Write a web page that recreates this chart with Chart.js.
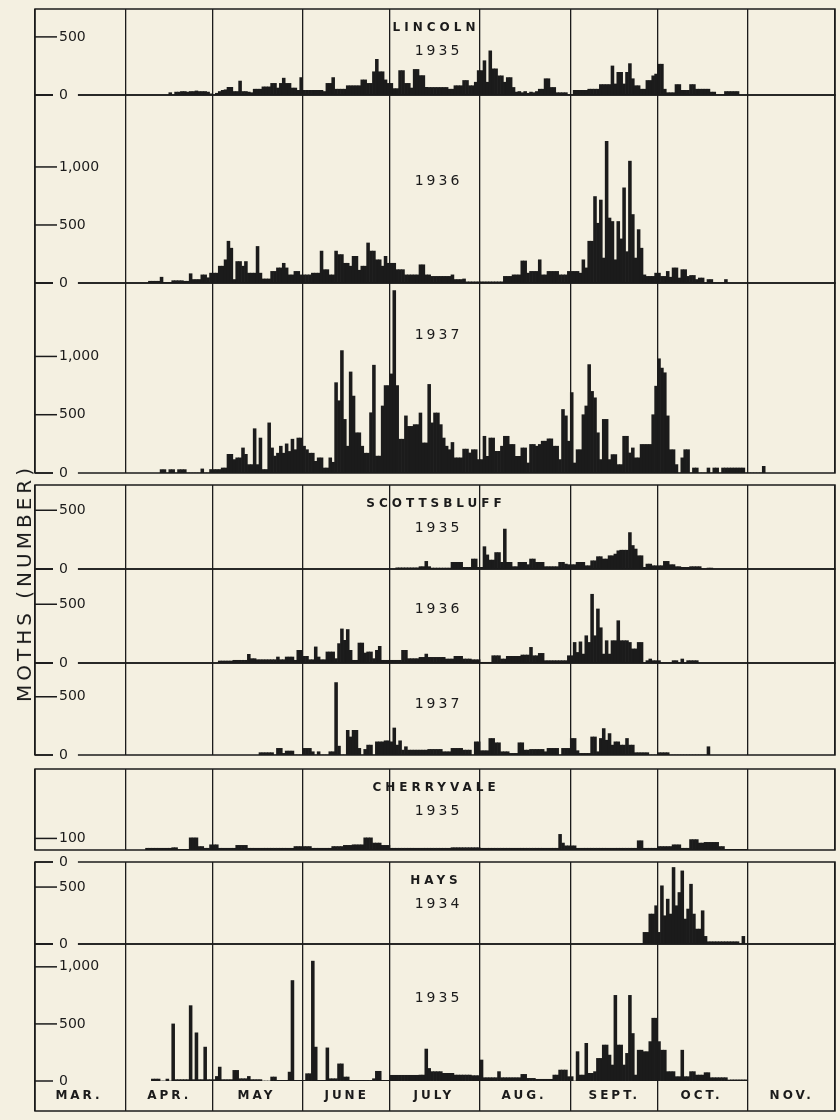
<!DOCTYPE html>
<html>
<head>
<meta charset="utf-8">
<script src="https://cdn.jsdelivr.net/npm/chart.js@4.4.1/dist/chart.umd.min.js"></script>
<style>
  html, body { margin: 0; padding: 0; background: #f4f0e1; }
  #page { position: relative; width: 840px; height: 1120px; overflow: hidden; background: #f4f0e1; }
  #page canvas { position: absolute; left: 0; }
  .lbl { position: absolute; font-family: "DejaVu Sans", sans-serif; color: #1b1b1b; white-space: nowrap; transform: translate(-50%, -50%); z-index: 300; }
  .place { font-weight: bold; font-size: 12px; letter-spacing: 4px; padding-left: 4px; }
  .year { font-size: 14px; letter-spacing: 3px; padding-left: 3px; }
  #ylab { font-size: 20px; letter-spacing: 4px; transform: translate(-50%, -50%) rotate(-90deg); }
</style>
</head>
<body>
<div id="page"></div>
<script>
// Days are counted from March 1 (day 0) to November 30 (day 274)
const monthStarts = [0, 31, 61, 92, 122, 153, 184, 214, 245, 275];
const monthNames = ['MAR.', 'APR.', 'MAY', 'JUNE', 'JULY', 'AUG.', 'SEPT.', 'OCT.', 'NOV.'];

// Daily catches (first value = start day)
const lincoln1935Start = 46;
const lincoln1935 = [
  20, 0, 25, 25, 30, 30, 25, 30, 30, 35, 30, 30, 30, 25,
  10, 0, 15, 30, 40, 45, 66, 66, 30, 30,
  120, 30, 30, 25, 20, 50, 50, 50, 70, 70,
  70, 100, 100, 60, 100, 145, 100, 100, 60, 60, 40,
  150, 40, 40, 40, 40, 40, 40, 40, 30,
  100, 100, 150, 50, 50, 50, 50, 80, 80, 80, 80, 80,
  130, 130, 100, 100, 200, 307, 200, 200, 130, 100, 100, 55, 55,
  210, 210, 100, 100, 60, 220, 220, 167,
  167, 66, 65, 65, 65, 65, 65, 65, 65,
  50, 50, 80, 80, 80, 125, 125, 80, 80,
  110, 210, 210, 295, 110, 380, 225, 225, 165, 165,
  110, 150, 150, 65, 25, 30, 20, 30, 15, 25,
  20, 30, 50, 50, 140, 140, 65, 65, 20, 20,
  20, 20, 0, 0, 40, 40, 40, 40, 40, 50,
  50, 50, 50, 90, 90, 90, 90, 250, 95, 195,
  195, 95, 195, 270, 140, 80, 80, 50, 50, 125,
  125, 165, 180, 265, 265, 50, 20, 20, 20, 90,
  90, 40, 40, 40, 90, 90, 50, 50, 50, 50,
  50, 25, 25, 0, 0, 0, 30, 30, 30, 30, 30
];

const lincoln1936Start = 39;
const lincoln1936 = [
  15, 15, 15, 15, 50, 5, 5, 5,
  20, 20, 20, 20, 15, 15,
  80, 30, 30, 30, 70, 70, 45,
  85, 85, 85, 145, 145, 200, 360, 300, 30,
  185, 185, 145, 185, 85, 85, 85, 315, 85,
  35, 35, 35, 100, 100, 130, 130, 170, 130,
  70, 70, 100, 100, 70, 70, 70, 70, 85, 85, 85,
  275, 115, 115, 70, 70, 275, 245, 245, 170, 170, 145,
  230, 230, 110, 145, 145, 345, 275, 275, 200, 200,
  145, 230, 170, 170, 170, 115, 115, 115,
  70, 70, 70, 70, 70, 157, 157, 70, 70,
  57, 57, 57, 57, 57, 57, 57, 70, 30, 30, 30, 35,
  10, 10, 10, 10, 10, 10, 10, 10, 10, 10, 10, 10, 10,
  57, 57, 57, 70, 70, 70, 190, 190, 85,
  100, 100, 100, 200, 70, 70, 100, 100, 100, 100,
  70, 70, 70, 100, 100, 100, 100, 85, 200, 130,
  360, 360, 745, 515, 715, 215, 1220, 560, 530, 200,
  530, 380, 820, 270, 1050, 590, 215, 460, 300, 70,
  57, 57, 57, 85, 85, 57, 57, 100, 50, 130,
  130, 43, 115, 115, 57, 65, 65, 30, 43, 43,
  0, 30, 30, 0, 0, 0, 0, 30
];

const lincoln1937Start = 43;
const lincoln1937 = [
  29, 29, 0, 29, 29, 0, 29, 29, 29, 0,
  0, 0, 0, 0, 35, 0, 0,
  30, 30, 30, 30, 43, 43,
  160, 160, 115, 130, 130, 215, 160, 72, 72,
  380, 72, 300, 30, 30, 430, 215, 145,
  170, 230, 170, 250, 185, 290, 200, 300, 300,
  230, 200, 170, 170, 100, 130, 130, 43, 43, 130, 92,
  775, 620, 1050, 460, 230, 867, 660, 345, 345, 230,
  170, 170, 517, 925, 145, 145, 575, 750, 750, 850,
  1565, 750, 290, 290, 490, 400, 400, 415, 415, 515,
  258, 258, 760, 430, 515, 515, 415, 300, 230, 200,
  262, 130, 130, 130, 205, 205, 172, 200, 200, 115,
  115, 315, 143, 300, 300, 186, 186, 230, 315, 315,
  245, 245, 143, 143, 215, 215, 86, 245, 245, 230,
  245, 273, 273, 293, 293, 230, 230, 115, 545, 490,
  273, 690, 86, 200, 200, 500, 575, 930, 700, 645,
  345, 115, 460, 460, 115, 158, 158, 72, 72, 315,
  315, 172, 215, 130, 130, 245, 245, 245, 245, 500,
  745, 980, 900, 860, 490, 200, 200, 72, 0, 130,
  200, 200, 0, 43, 43, 0, 0, 0, 43, 0,
  43, 43, 0, 43, 43, 43, 43, 43, 43, 43, 43,
  0, 0, 0, 0, 0, 0, 57
];

const scottsbluff1935Start = 124;
const scottsbluff1935 = [
  10, 10, 10, 10, 10, 10, 10, 10,
  20, 20, 65, 20,
  8, 8, 8, 8, 8, 8, 8,
  57, 57, 57, 57, 14, 14, 14,
  85, 85, 14, 14, 190, 120, 76, 76, 140, 140,
  57, 340, 57, 57, 20, 20, 57, 57, 57, 37,
  85, 85, 57, 57, 57, 20, 20, 20, 20, 20,
  57, 57, 42, 37, 37, 37, 57, 57, 57, 28,
  28, 70, 70, 105, 105, 85, 85, 113, 113, 127,
  155, 160, 160, 160, 310, 200, 170, 113, 113, 14,
  42, 42, 28, 28, 28, 28, 65, 65, 37, 37,
  20, 20, 14, 14, 14, 20, 20, 20, 20, 0, 0, 8, 8
];

const scottsbluff1936Start = 63;
const scottsbluff1936 = [
  17, 17, 17, 17, 17, 23, 23, 23, 23, 23,
  74, 37, 37, 28, 28, 28, 28, 28, 28, 28,
  51, 28, 28, 51, 51, 51, 23, 108, 108, 57,
  57, 28, 28, 137, 51, 28, 28, 94, 94, 94,
  37, 165, 290, 193, 285, 108, 23, 23, 170, 170,
  85, 94, 94, 37, 108, 142, 23, 23, 23, 23,
  23, 23, 23, 108, 108, 37, 37, 37, 37, 48,
  48, 76, 48, 48, 48, 48, 48, 48, 34, 34,
  34, 57, 57, 57, 34, 34, 34, 28, 28, 28,
  6, 6, 6, 6, 62, 62, 62, 34, 34, 57,
  57, 57, 57, 57, 68, 68, 68, 133, 62, 62,
  82, 82, 20, 20, 20, 20, 20, 20, 20, 20,
  62, 62, 175, 90, 180, 76, 232, 175, 585, 232,
  460, 300, 76, 190, 76, 190, 190, 360, 190, 190,
  190, 175, 120, 120, 175, 175, 0, 20, 34, 20,
  20, 20, 0, 0, 0, 0, 20, 20, 0, 34,
  0, 20, 20, 20, 20
];

const scottsbluff1937Start = 77;
const scottsbluff1937 = [
  20, 20, 20, 20, 20, 0, 57, 57, 14, 34,
  34, 34, 0, 0, 0, 57, 57, 57, 28, 0,
  28, 0, 0, 0, 28, 28, 622, 76, 0, 0,
  212, 155, 212, 212, 57, 0, 48, 85, 85, 0,
  113, 113, 113, 122, 122, 113, 232, 85, 122, 42,
  71, 42, 42, 42, 42, 42, 42, 42, 48, 48,
  48, 48, 48, 28, 28, 28, 57, 57, 57, 57,
  42, 42, 42, 0, 113, 113, 37, 37, 37, 142,
  142, 105, 105, 28, 28, 28, 14, 14, 14, 105,
  105, 42, 42, 48, 48, 48, 48, 48, 28, 57,
  57, 57, 57, 0, 57, 57, 57, 142, 142, 37,
  14, 14, 14, 14, 155, 155, 28, 142, 227, 127,
  184, 85, 113, 113, 85, 85, 142, 85, 85, 20,
  20, 20, 20, 20, 0, 0, 0, 20, 20, 20,
  20, 0, 0, 0, 0, 0, 0, 0, 0, 0, 0, 0, 0, 0, 71
];

const cherryvale1935Start = 38;
const cherryvale1935 = [
  15, 15, 15, 15, 15, 15, 15, 15, 15, 20,
  20, 6, 6, 6, 6, 105, 105, 105, 30, 30,
  15, 15, 45, 45, 45, 15, 15, 15, 15, 15,
  15, 40, 40, 40, 40, 15, 15, 15, 15, 15,
  15, 15, 15, 15, 15, 15, 15, 15, 15, 15,
  15, 30, 30, 30, 30, 30, 30, 15, 15, 15,
  15, 15, 15, 15, 30, 30, 30, 30, 40, 40,
  40, 45, 45, 45, 45, 105, 105, 105, 60, 60,
  60, 40, 40, 40, 15, 15, 15, 15, 15, 15,
  15, 15, 15, 15, 15, 15, 15, 15, 15, 15,
  15, 15, 15, 15, 15, 20, 20, 20, 20, 20,
  20, 20, 20, 20, 20, 15, 15, 15, 15, 15,
  15, 15, 15, 15, 15, 15, 15, 15, 15, 15,
  15, 15, 15, 15, 15, 15, 15, 15, 15, 15,
  15, 15, 135, 60, 36, 36, 36, 36, 15, 15,
  15, 15, 15, 15, 15, 15, 15, 15, 15, 15,
  15, 15, 15, 15, 15, 15, 15, 15, 15, 80,
  80, 15, 15, 15, 15, 15, 30, 30, 30, 30,
  30, 45, 45, 45, 15, 15, 15, 90, 90, 90,
  60, 60, 66, 66, 66, 66, 66, 30, 30, 6,
  6, 6, 6, 6, 6, 6, 6
];

const hays1934Start = 209;
const hays1934 = [
  102, 102, 263, 263, 336, 102, 511, 248, 394, 263,
  672, 336, 452, 642, 219, 307, 525, 263, 131, 131,
  292, 67, 20, 20, 20, 20, 20, 20, 20, 20, 20, 20, 20, 0, 67
];

const hays1935Start = 40;
const hays1935 = [
  17, 17, 17, 0, 0, 17, 0, 500, 12, 12,
  12, 12, 12, 660, 12, 422, 12, 12, 297, 12,
  12, 12, 40, 122, 12, 12, 12, 12, 93, 93,
  20, 20, 20, 40, 12, 12, 12, 12, 0, 0,
  0, 35, 35, 6, 6, 6, 6, 78, 880, 6,
  6, 6, 6, 64, 64, 1050, 297, 6, 6, 6,
  290, 20, 20, 20, 150, 150, 35, 35, 6, 6,
  6, 6, 6, 6, 6, 6, 20, 85, 85, 6,
  6, 6, 50, 50, 50, 50, 50, 50, 50, 50,
  50, 50, 52, 52, 280, 110, 82, 82, 82, 82,
  67, 67, 67, 67, 52, 52, 52, 52, 52, 52,
  47, 47, 47, 184, 29, 29, 29, 29, 29, 82,
  29, 29, 29, 29, 29, 29, 29, 58, 58, 23,
  23, 23, 15, 15, 15, 15, 15, 15, 52, 52,
  96, 96, 96, 38, 38, 0, 257, 52, 52, 330,
  67, 67, 82, 198, 198, 315, 315, 227, 140, 750,
  315, 315, 140, 242, 750, 416, 52, 270, 270, 257,
  257, 345, 550, 550, 345, 270, 270, 82, 82, 82,
  38, 38, 270, 38, 38, 82, 82, 52, 52, 52,
  73, 73, 29, 29, 29, 29, 29, 29, 9, 10,
  10, 10, 10, 10, 10
];

// Panel layout on the page (pixels) and axis ranges
const panels = [
  { place: 'LINCOLN', placeY: 27, year: '1935', yearY: 50, start: lincoln1935Start, values: lincoln1935, top: 9, bottom: 95, max: 740, ticks: [0, 500] },
  { year: '1936', yearY: 180, start: lincoln1936Start, values: lincoln1936, top: 95, bottom: 283, max: 1620, ticks: [0, 500, 1000] },
  { year: '1937', yearY: 334, start: lincoln1937Start, values: lincoln1937, top: 283, bottom: 473, max: 1630, ticks: [0, 500, 1000] },
  { place: 'SCOTTSBLUFF', placeY: 503, year: '1935', yearY: 527, start: scottsbluff1935Start, values: scottsbluff1935, top: 485, bottom: 569, max: 715, ticks: [0, 500] },
  { year: '1936', yearY: 608, start: scottsbluff1936Start, values: scottsbluff1936, top: 569, bottom: 663, max: 800, ticks: [0, 500] },
  { year: '1937', yearY: 703, start: scottsbluff1937Start, values: scottsbluff1937, top: 663, bottom: 755, max: 790, ticks: [0, 500] },
  { place: 'CHERRYVALE', placeY: 787, year: '1935', yearY: 810, start: cherryvale1935Start, values: cherryvale1935, top: 769, bottom: 850, max: 700, ticks: [100] },
  { place: 'HAYS', placeY: 880, year: '1934', yearY: 903, start: hays1934Start, values: hays1934, top: 862, bottom: 944, max: 720, ticks: [0, 500, 720], labels: ['0', '500', '0'] },
  { year: '1935', yearY: 997, start: hays1935Start, values: hays1935, top: 944, bottom: 1081, max: 1200, ticks: [0, 500, 1000], months: true }
];

const BG = '#f4f0e1';
const INK = '#1b1b1b';
const PAD = 10;
const MONTH_ROW = 30;

Chart.defaults.font.family = '"DejaVu Sans", sans-serif';
Chart.defaults.color = INK;

// panel box plus the short inward tick marks of the y axis
const framePlugin = {
  id: 'frame',
  beforeDatasetsDraw(chart, args, opts) {
    const { ctx, chartArea: a } = chart;
    ctx.save();
    ctx.letterSpacing = '0px';
    ctx.strokeStyle = INK;
    ctx.lineWidth = 1.5;
    ctx.strokeRect(a.left, a.top, a.right - a.left, a.bottom - a.top + (opts.extra || 0));
    const ys = chart.scales.y;
    ys.ticks.forEach(t => {
      const py = ys.getPixelForValue(t.value);
      ctx.beginPath();
      ctx.moveTo(a.left, py);
      ctx.lineTo(a.left + 22, py);
      ctx.stroke();
    });
    ctx.restore();
  }
};

// wide letter spacing for the month names
const spacingPlugin = {
  id: 'spacing',
  beforeDraw(chart) { chart.ctx.letterSpacing = '3px'; },
  beforeDatasetsDraw(chart) { chart.ctx.letterSpacing = '0px'; }
};

const page = document.getElementById('page');

function fmt(v) {
  return v >= 1000 ? String(v).replace(/(\d)(\d{3})$/, '$1,$2') : String(v);
}

function noPadding(s) {
  s.paddingTop = 0;
  s.paddingBottom = 0;
  s.paddingLeft = 0;
  s.paddingRight = 0;
}

panels.forEach((p, i) => {
  const extra = p.months ? MONTH_ROW : 0;
  const canvas = document.createElement('canvas');
  canvas.width = 840;
  canvas.height = (p.bottom - p.top) + extra + 2 * PAD;
  canvas.style.top = (p.top - PAD) + 'px';
  canvas.style.zIndex = String(100 - i);
  page.appendChild(canvas);

  const points = p.values.map((v, k) => ({ x: p.start + k + 0.5, y: v }));
  const labelFor = idx => p.labels ? p.labels[idx] : fmt(p.ticks[idx]);

  new Chart(canvas, {
    type: 'bar',
    data: {
      datasets: [{
        data: points,
        backgroundColor: INK,
        borderWidth: 0,
        barPercentage: 1,
        categoryPercentage: 1
      }]
    },
    options: {
      responsive: false,
      animation: false,
      devicePixelRatio: 1,
      layout: { padding: { left: 35, right: 5, top: PAD, bottom: PAD } },
      plugins: {
        legend: { display: false },
        tooltip: { enabled: false },
        frame: { extra: extra }
      },
      scales: {
        x: {
          type: 'linear',
          min: 0,
          max: 275,
          offset: false,
          afterBuildTicks: s => { s.ticks = monthStarts.map(v => ({ value: v })); },
          afterFit: s => { s.height = extra; noPadding(s); },
          grid: { offset: false, color: INK, lineWidth: 1.3, drawTicks: !!p.months, tickLength: MONTH_ROW },
          border: { display: false },
          ticks: {
            display: !!p.months,
            autoSkip: false,
            maxRotation: 0,
            labelOffset: 44,
            padding: -22,
            color: INK,
            font: { size: 12, weight: 'bold' },
            callback: (v, k) => monthNames[k] || ''
          }
        },
        y: {
          min: 0,
          max: p.max,
          afterBuildTicks: s => { s.ticks = p.ticks.map(v => ({ value: v })); },
          afterFit: s => { s.width = 0; noPadding(s); },
          grid: { display: false, drawTicks: false },
          border: { display: false },
          ticks: {
            mirror: true,
            padding: 24,
            z: 1,
            color: INK,
            font: { size: 14 },
            callback: (v, k) => labelFor(k),
            showLabelBackdrop: c => labelFor(c.index) === '0',
            backdropColor: BG,
            backdropPadding: { left: 6, right: 10, top: 0, bottom: 0 }
          }
        }
      }
    },
    plugins: p.months ? [spacingPlugin, framePlugin] : [framePlugin]
  });

  // titles inside the panels
  if (p.place) {
    const d = document.createElement('div');
    d.className = 'lbl place';
    d.textContent = p.place;
    d.style.left = '434px';
    d.style.top = p.placeY + 'px';
    page.appendChild(d);
  }
  const y = document.createElement('div');
  y.className = 'lbl year';
  y.textContent = p.year;
  y.style.left = '437px';
  y.style.top = p.yearY + 'px';
  page.appendChild(y);
});

const ylab = document.createElement('div');
ylab.className = 'lbl';
ylab.id = 'ylab';
ylab.textContent = 'MOTHS (NUMBER)';
ylab.style.left = '24px';
ylab.style.top = '583px';
page.appendChild(ylab);
</script>
</body>
</html>
